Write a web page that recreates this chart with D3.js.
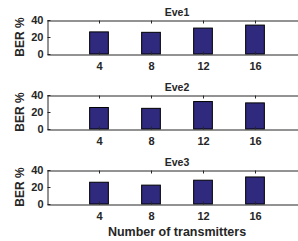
<!DOCTYPE html>
<html>
<head>
<meta charset="utf-8">
<script src="https://cdn.jsdelivr.net/npm/d3@7"></script>
<style>
  body { margin: 0; background: #fff; }
  text { font-family: "Liberation Sans", Arial, sans-serif; font-weight: bold; fill: #262626; }
</style>
</head>
<body>
<svg id="vis" width="298" height="241"></svg>
<script>
// data
const transmitters = [4, 8, 12, 16]
const eve1 = [26, 25.5, 30.5, 34]
const eve2 = [25.3, 24.3, 32.3, 30.7]
const eve3 = [25.6, 22.2, 28, 31.8]
const panelTitles = ["Eve1", "Eve2", "Eve3"]
const yTicks = [0, 20, 40]

const series = [eve1, eve2, eve3]
const vis = d3.select("#vis")

// shared x scale (MATLAB xlim [0 20], axis runs off the right edge)
const xScale = d3.scaleLinear().domain([0, 20]).range([47, 307])
const barW = xScale(1.44) - xScale(0)

const panelTop = [20, 95, 170]
const panelH = 34

series.forEach((vals, i) => {
  const top = panelTop[i]
  const yScale = d3.scaleLinear().domain([0, 40]).range([top + panelH, top])
  const g = vis.append("g")

  // bars
  g.selectAll(".bar")
    .data(vals)
    .enter()
    .append("rect")
    .attr("class", "bar")
    .attr("x", (d, j) => xScale(transmitters[j]) - barW / 2)
    .attr("y", d => yScale(d))
    .attr("width", barW)
    .attr("height", d => yScale(0) - yScale(d))
    .attr("fill", "#2f2a7e")
    .attr("stroke", "#000")
    .attr("stroke-width", 1)

  // bottom axis with labels, ticks pointing in
  const xAxis = d3.axisBottom(xScale).tickValues(transmitters).tickSizeInner(-3).tickSizeOuter(0).tickPadding(8)
  const gx = g.append("g").attr("transform", `translate(0, ${yScale(0) + 0.5})`).call(xAxis)
  gx.selectAll("text").style("font-size", "11px")

  // top line with ticks pointing down
  const topAxis = d3.axisTop(xScale).tickValues(transmitters).tickSizeInner(-3).tickSizeOuter(0).tickFormat("")
  g.append("g").attr("transform", `translate(0, ${top + 0.5})`).call(topAxis)

  // left axis
  const yAxis = d3.axisLeft(yScale).tickValues(yTicks).tickSizeInner(-3).tickSizeOuter(0).tickPadding(4)
  const gy = g.append("g").attr("transform", `translate(${xScale(0) + 0.5}, 0)`).call(yAxis)
  gy.selectAll("text").style("font-size", "11px")

  vis.selectAll(".domain, .tick line").attr("stroke", "#262626")

  // title
  g.append("text")
    .attr("x", (xScale(0) + xScale(20)) / 2)
    .attr("y", top - 4)
    .attr("text-anchor", "middle")
    .style("font-size", "10.5px")
    .text(panelTitles[i])

  // y label
  g.append("text")
    .attr("transform", `translate(24, ${top + panelH / 2}) rotate(-90)`)
    .attr("text-anchor", "middle")
    .style("font-size", "12px")
    .text("BER %")
})

// x label
vis.append("text")
  .attr("x", (xScale(0) + xScale(20)) / 2)
  .attr("y", 236)
  .attr("text-anchor", "middle")
  .style("font-size", "12.5px")
  .text("Number of transmitters")
</script>
</body>
</html>
